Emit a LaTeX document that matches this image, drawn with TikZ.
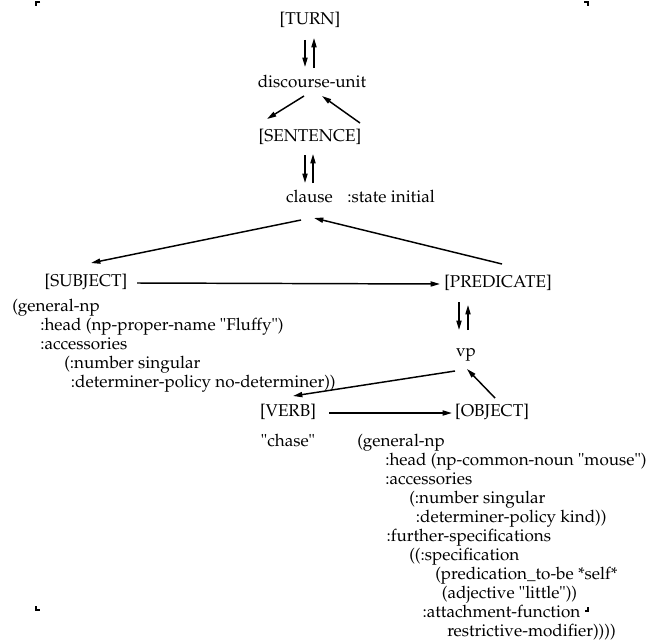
\documentclass[tikz,border=0pt]{standalone}
\usepackage[T1]{fontenc}
\renewcommand{\rmdefault}{ppl}
\usetikzlibrary{arrows.meta}
\begin{document}
\begin{tikzpicture}[x=0.75pt,y=-0.75pt,
  every node/.style={inner sep=0pt, font=\fontsize{12.8}{14.3}\selectfont},
  lbl/.style={anchor=base},
  note/.style={anchor=base west},
  code/.style={anchor=base west},
  link/.style={line width=1.1pt, -{Triangle[length=7pt,width=3.8pt]}},
  cropmark/.style={line width=0.8pt}]
\useasboundingbox (0,0) rectangle (659,642);

% crop marks of the text area
\draw[cropmark] (40,2) -- (36,2) -- (36,6);
\draw[cropmark] (584,2) -- (588,2) -- (588,6);
\draw[cropmark] (36,606) -- (36,610) -- (40,610);
\draw[cropmark] (588,607) -- (588,611) -- (585,611);

% generation levels
\node[lbl] (turn)   at (310,25)  {[TURN]};
\node[lbl] (du)     at (312,87)  {discourse-unit};
\node[lbl] (sent)   at (310,141) {[SENTENCE]};
\node[lbl] (clause) at (309.5,202) {clause};
\node[note] (state) at (347,202) {:state initial};
\node[lbl] (subj)   at (86,286)  {[SUBJECT]};
\node[lbl] (pred)   at (498,287) {[PREDICATE]};
\node[lbl] (vp)     at (466,356) {vp};
\node[lbl] (verb)   at (288,416) {[VERB]};
\node[lbl] (obj)    at (492,416) {[OBJECT]};
\node[lbl] (chase)  at (288,446) {"chase"};

% noun phrase specifications
\node[code] (np1) at (12,311) {\begin{tabular}[t]{@{}l@{}}
(general-np\\
\hspace*{21pt}:head (np-proper-name "Fluffy")\\
\hspace*{21pt}:accessories\\
\hspace*{39pt}(:number singular\\
\hspace*{44pt}:determiner-policy no-determiner))
\end{tabular}};

\node[code] (np2) at (357,446) {\begin{tabular}[t]{@{}l@{}}
(general-np\\
\hspace*{21pt}:head (np-common-noun "mouse")\\
\hspace*{21pt}:accessories\\
\hspace*{39pt}(:number singular\\
\hspace*{44pt}:determiner-policy kind))\\
\hspace*{22pt}:further-specifications\\
\hspace*{39pt}((:specification\\
\hspace*{58.5pt}(predication\_to-be *self*\\
\hspace*{63.5pt}(adjective "little"))\\
\hspace*{49pt}:attachment-function\\
\hspace*{67.5pt}restrictive-modifier))))
\end{tabular}};

% connectors
\draw[link] ([shift={(-5,15)}]turn.base) -- ([shift={(-7,-20)}]du.base);
\draw[link] ([shift={(2,-19)}]du.base) -- ([shift={(4,13)}]turn.base);
\draw[link] ([shift={(-8,9)}]du.base) -- ([shift={(-43,-22)}]sent.base);
\draw[link] ([shift={(50,-18)}]sent.base) -- ([shift={(10,9)}]du.base);
\draw[link] ([shift={(-5,14)}]sent.base) -- ([shift={(-4.5,-19)}]clause.base);
\draw[link] ([shift={(3.5,-19)}]clause.base) -- ([shift={(3,13)}]sent.base);
\draw[link] ([shift={(-8.5,18)}]clause.base) -- ([shift={(5,-23)}]subj.base);
\draw[link] ([shift={(4,-23)}]pred.base) -- ([shift={(4.5,16)}]clause.base);
\draw[link] ([shift={(51,-3)}]subj.base) -- ([shift={(-58,-3)}]pred.base);
\draw[link] ([shift={(-39,15)}]pred.base) -- ([shift={(-7,-26)}]vp.base);
\draw[link] ([shift={(2,-26)}]vp.base) -- ([shift={(-30,18)}]pred.base);
\draw[link] ([shift={(-11,15)}]vp.base) -- ([shift={(5,-20)}]verb.base);
\draw[link] ([shift={(3,-18)}]obj.base) -- ([shift={(1,13)}]vp.base);
\draw[link] ([shift={(41,-3)}]verb.base) -- ([shift={(-40,-3)}]obj.base);
\end{tikzpicture}
\end{document}
